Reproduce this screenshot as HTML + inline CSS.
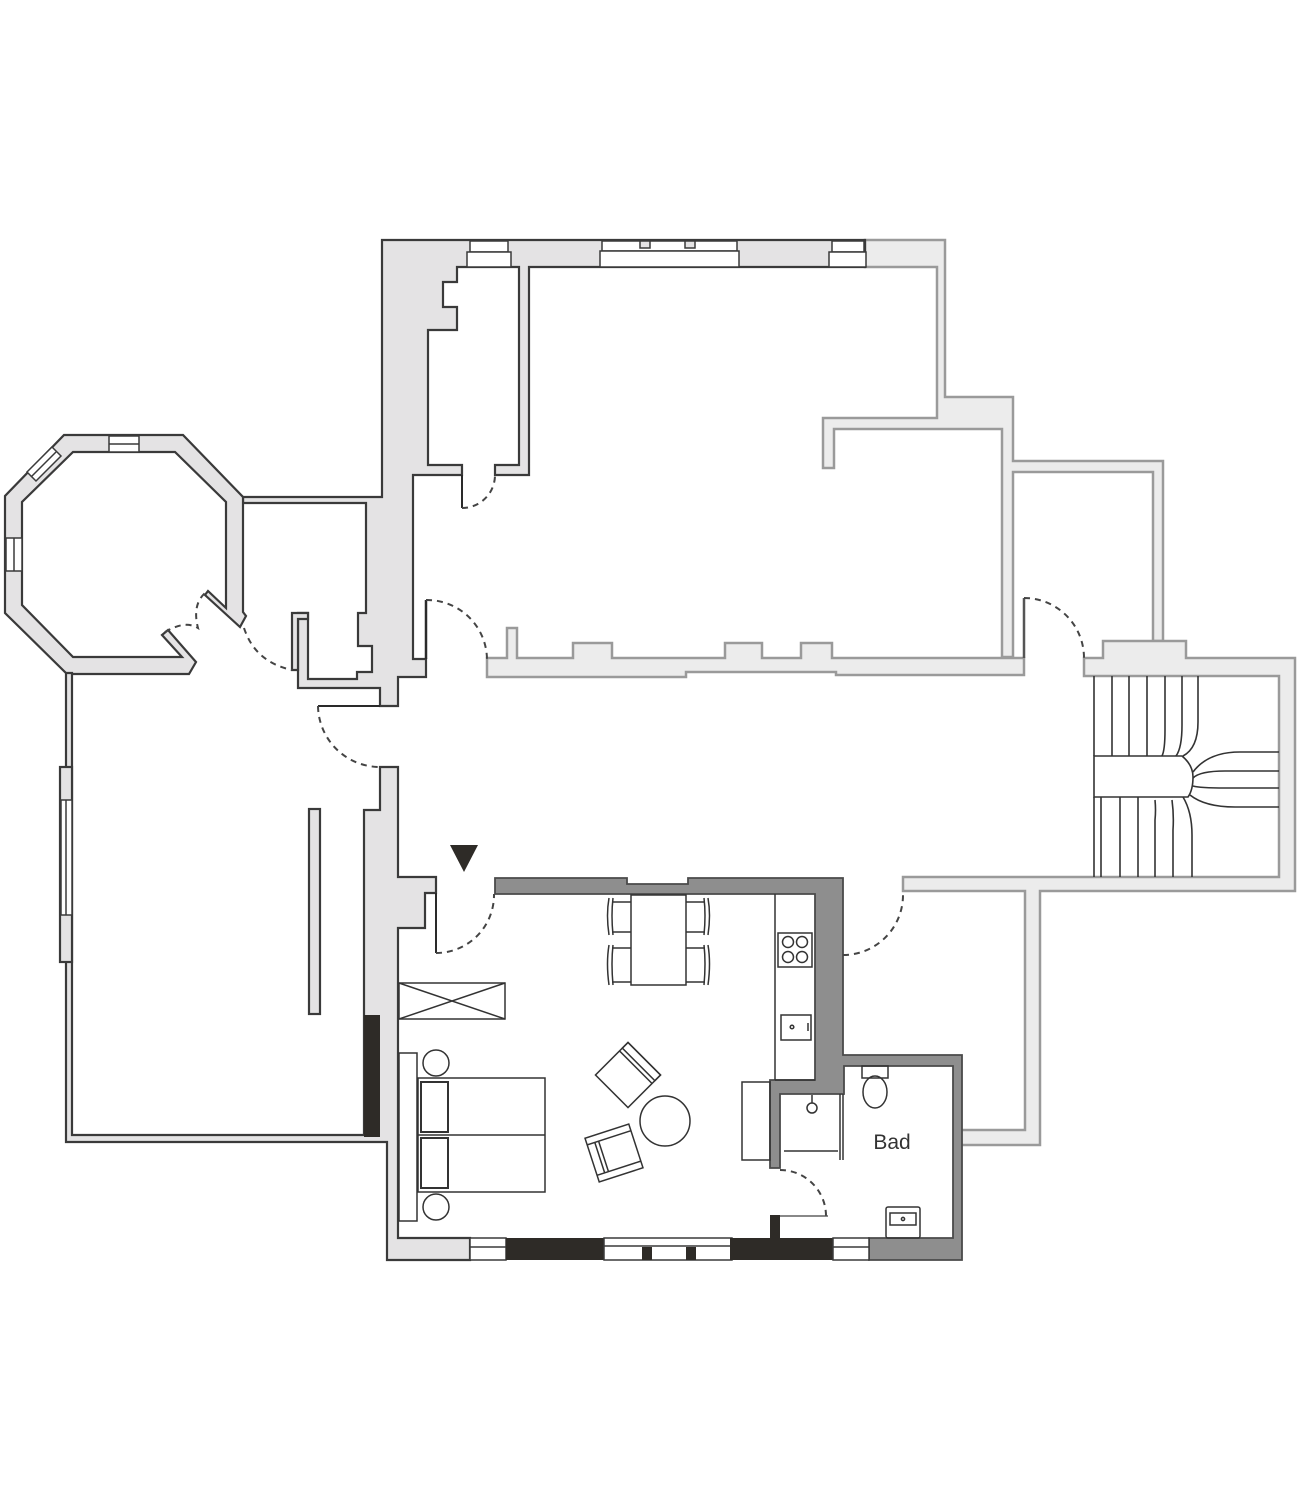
<!DOCTYPE html>
<html><head><meta charset="utf-8"><style>html,body{margin:0;padding:0;background:#fff}svg{display:block}</style></head>
<body>
<svg width="1300" height="1500" viewBox="0 0 1300 1500" xmlns="http://www.w3.org/2000/svg" stroke-linejoin="miter">
<rect width="1300" height="1500" fill="#fff"/>

<!-- LIGHT walls (right side) -->
<g fill="#ececec" stroke="#9a9a9a" stroke-width="2.5">
  <polygon points="865,240 945,240 945,397 1013,397 1013,461 1163,461 1163,641 1153,641 1153,472 1013,472 1013,657 1002,657 1002,429 834,429 834,468 823,468 823,418 937,418 937,267 865,267"/>
  <polygon points="487,658 507,658 507,628 517,628 517,658 573,658 573,643 612,643 612,658 725,658 725,643 762,643 762,658 801,658 801,643 832,643 832,658 1002,658 1013,658 1024,658 1024,675 836,675 836,672 686,672 686,677 626,677 626,677 487,677"/>
  <polygon points="1084,658 1103,658 1103,641 1186,641 1186,658 1295,658 1295,891 1040,891 1040,1145 960,1145 960,1130 1025,1130 1025,891 903,891 903,877 1279,877 1279,676 1084,676"/>
</g>

<!-- stairs -->
<g fill="none" stroke="#333" stroke-width="1.6">
  <path d="M1094,756H1182 Q1193,765 1193,777 Q1193,790 1188,797 H1094 Z"/>
  <path d="M1094,676V756 M1112,676V756 M1129,676V756 M1147,676V756 M1165,676V730 Q1165,750 1162,756 M1182,676V725 Q1182,748 1176,756 M1198,676V722 Q1198,748 1183,756"/>
  <path d="M1094,797V877 M1101,797V877 M1120,797V877 M1138,797V877 M1155,800 Q1156,810 1155,820 V877 M1172,800 Q1174,815 1173,830 V877 M1183,797 Q1192,812 1192,835 V877"/>
  <path d="M1279,752H1240 Q1208,752 1193,772 M1279,771H1225 Q1200,771 1193,778 M1279,788H1225 Q1200,788 1193,786 M1279,807H1235 Q1205,807 1190,795"/>
</g>

<!-- DARK-outlined light grey walls (left building) -->
<g fill="#e4e3e4" stroke="#3a3a3a" stroke-width="2.2">
  <polygon points="382,240 865,240 865,267 529,267 529,475 495,475 495,465 519,465 519,267 457,267 457,282 443,282 443,307 457,307 457,330 428,330 428,465 462,465 462,475 413,475 413,659 426,659 426,677 398,677 398,706 380,706 380,688 298,688 298,613 308,613 308,679 357,679 357,672 372,672 372,646 358,646 358,613 366,613 366,503 243,503 243,497 382,497"/>
  <!-- octagon -->
  <path fill-rule="evenodd" d="M64,435 L183,435 L243,497 L243,612 L246,616 L240,627 L205,595 L208,591 L226,608 L226,502 L175,452 L73,452 L22,502 L22,605 L73,657 L182,657 L162,635 L168,630 L196,662 L189,674 L67,674 L5,613 L5,496 Z"/>
  <!-- thin jamb -->
  <polygon points="292,613 308,613 308,619 298,619 298,670 292,670"/>
  <!-- left lower wall / apartment left wall -->
  <polygon points="398,767 380,767 380,810 364,810 364,1135 72,1135 72,673 66,673 66,1142 387,1142 387,1260 470,1260 470,1238 398,1238 398,928 425,928 425,893 436,893 436,877 398,877"/>
  <rect x="60" y="767" width="12" height="195"/>
  <rect x="309" y="809" width="11" height="205"/>
</g>
<!-- left room window -->
<g fill="#fff" stroke="#3a3a3a" stroke-width="1.5">
  <rect x="61" y="800" width="11" height="115"/>
  <line x1="66" y1="800" x2="66" y2="915"/>
</g>
<!-- octagon windows -->
<g fill="#fff" stroke="#3a3a3a" stroke-width="1.5">
  <rect x="109" y="436" width="30" height="16"/>
  <line x1="109" y1="444" x2="139" y2="444"/>
  <polygon points="52,447 27,472 36,481 61,456"/>
  <line x1="56" y1="452" x2="31" y2="477"/>
  <rect x="6" y="538" width="16" height="33"/>
  <line x1="14" y1="538" x2="14" y2="571"/>
</g>
<!-- top windows -->
<g fill="#fff" stroke="#3a3a3a" stroke-width="1.5">
  <rect x="470" y="241" width="38" height="11"/>
  <rect x="467" y="252" width="44" height="15"/>
  <rect x="602" y="241" width="135" height="10"/>
  <rect x="600" y="251" width="139" height="16"/>
  <rect x="640" y="241" width="10" height="7" fill="#e4e3e4"/>
  <rect x="685" y="241" width="10" height="7" fill="#e4e3e4"/>
  <rect x="832" y="241" width="32" height="11"/>
  <rect x="829" y="252" width="37" height="15"/>
</g>
<!-- black strip -->
<rect x="364" y="1015" width="16" height="122" fill="#2e2b27"/>
<!-- doors lines thick -->
<g stroke="#2a2a2a" stroke-width="2.5" fill="none">
  <line x1="426" y1="600" x2="426" y2="659"/>
  <line x1="1024" y1="598" x2="1024" y2="658" stroke="#555"/>
  <line x1="318" y1="706" x2="380" y2="706" stroke-width="2"/>
  <line x1="462" y1="475" x2="462" y2="508" stroke-width="2"/>
  <line x1="436" y1="893" x2="436" y2="953" stroke-width="2"/>
</g>

<!-- APARTMENT dark grey walls -->
<g fill="#8e8e8e" stroke="#4a4a4a" stroke-width="1.8">
  <polygon points="495,878 627,878 627,884 688,884 688,878 843,878 843,1055 962,1055 962,1260 869,1260 869,1238 953,1238 953,1066 844,1066 844,1094 780,1094 780,1168 770,1168 770,1080 815,1080 815,894 495,894"/>
</g>
<!-- bottom wall -->
<rect x="470" y="1238" width="36" height="22" fill="#fff" stroke="#3a3a3a" stroke-width="1.5"/>
<line x1="470" y1="1247" x2="506" y2="1247" stroke="#3a3a3a" stroke-width="1.5"/>
<rect x="506" y="1238" width="98" height="22" fill="#2e2b27"/>
<rect x="604" y="1238" width="128" height="22" fill="#fff" stroke="#3a3a3a" stroke-width="1.5"/>
<line x1="604" y1="1246" x2="732" y2="1246" stroke="#3a3a3a" stroke-width="1.5"/>
<rect x="642" y="1247" width="10" height="13" fill="#2e2b27"/>
<rect x="686" y="1247" width="10" height="13" fill="#2e2b27"/>
<rect x="730" y="1238" width="103" height="22" fill="#2e2b27"/>
<rect x="770" y="1215" width="10" height="25" fill="#2e2b27"/>
<rect x="833" y="1238" width="36" height="22" fill="#fff" stroke="#3a3a3a" stroke-width="1.5"/>
<line x1="833" y1="1247" x2="869" y2="1247" stroke="#3a3a3a" stroke-width="1.5"/>
<line x1="780" y1="1216" x2="828" y2="1216" stroke="#888" stroke-width="2"/>

<!-- dashed door arcs -->
<g fill="none" stroke="#444" stroke-width="2" stroke-dasharray="6,5">
  <path d="M462,508 A33,33 0 0 0 495,475"/>
  <path d="M426,600 A60,60 0 0 1 487,660"/>
  <path d="M1024,598 A60,60 0 0 1 1084,658"/>
  <path d="M318,706 A62,62 0 0 0 380,767"/>
  <path d="M436,953 A58,58 0 0 0 494,894"/>
  <path d="M843,955 A60,60 0 0 0 903,895"/>
  <path d="M780,1170 A46,46 0 0 1 826,1216"/>
  <path d="M165,632 Q185,620 198,628 Q192,605 205,593"/>
  <path d="M244,628 Q255,662 292,670"/>
</g>

<!-- furniture -->
<g fill="none" stroke="#333" stroke-width="1.5">
  <line x1="775" y1="894" x2="775" y2="1080"/>
  <line x1="775" y1="1080" x2="815" y2="1080"/>
  <rect x="778" y="933" width="34" height="34"/>
  <circle cx="788" cy="942" r="5.5"/><circle cx="802" cy="942" r="5.5"/>
  <circle cx="788" cy="957" r="5.5"/><circle cx="802" cy="957" r="5.5"/>
  <rect x="781" y="1015" width="30" height="25"/>
  <circle cx="792" cy="1027" r="1.8"/>
  <line x1="808" y1="1023" x2="808" y2="1031"/>
  <rect x="631" y="895" width="55" height="90"/>
  <path d="M631,902H612 M631,932H612 M609,898 Q606,915 609,935 M613,898 Q611,915 613,935"/>
  <path d="M631,948H612 M631,982H612 M609,945 Q606,963 609,985 M613,945 Q611,963 613,985"/>
  <path d="M686,902H705 M686,932H705 M708,898 Q711,915 708,935 M704,898 Q706,915 704,935"/>
  <path d="M686,948H705 M686,982H705 M708,945 Q711,963 708,985 M704,945 Q706,963 704,985"/>
  <rect x="399" y="983" width="106" height="36"/>
  <path d="M399,983 L505,1019 M399,1019 L505,983"/>
  <rect x="399" y="1053" width="18" height="168"/>
  <rect x="418" y="1078" width="127" height="114"/>
  <line x1="418" y1="1135" x2="545" y2="1135"/>
  <rect x="421" y="1082" width="27" height="50" stroke-width="2"/>
  <rect x="421" y="1138" width="27" height="50" stroke-width="2"/>
  <circle cx="436" cy="1063" r="13"/>
  <circle cx="436" cy="1207" r="13"/>
  <g transform="translate(628,1075) rotate(45)">
    <rect x="-23" y="-23" width="46" height="46"/>
    <rect x="-23" y="-23" width="46" height="8"/>
    <line x1="-23" y1="-11" x2="23" y2="-11"/>
  </g>
  <g transform="translate(614,1153) rotate(-18)">
    <rect x="-23" y="-23" width="46" height="46"/>
    <line x1="-23" y1="-16" x2="23" y2="-16"/>
    <line x1="-23" y1="16" x2="23" y2="16"/>
    <line x1="-15" y1="-16" x2="-15" y2="16"/>
    <line x1="-11" y1="-16" x2="-11" y2="16"/>
  </g>
  <circle cx="665" cy="1121" r="25"/>
  <rect x="742" y="1082" width="28" height="78"/>
  <line x1="784" y1="1151" x2="838" y2="1151"/>
  <line x1="840" y1="1094" x2="840" y2="1160"/>
  <line x1="843" y1="1094" x2="843" y2="1160"/>
  <line x1="812" y1="1095" x2="812" y2="1103"/>
  <circle cx="812" cy="1108" r="5"/>
  <rect x="862" y="1066" width="26" height="12"/>
  <ellipse cx="875" cy="1092" rx="12" ry="16"/>
  <rect x="886" y="1207" width="34" height="31" rx="2"/>
  <rect x="890" y="1213" width="26" height="12"/>
  <circle cx="903" cy="1219" r="1.6"/>
</g>

<polygon points="450,845 478,845 464,872" fill="#2e2b27"/>

<text x="892" y="1149" font-family="Liberation Sans, sans-serif" font-size="21" fill="#333" text-anchor="middle">Bad</text>
</svg>
</body></html>
